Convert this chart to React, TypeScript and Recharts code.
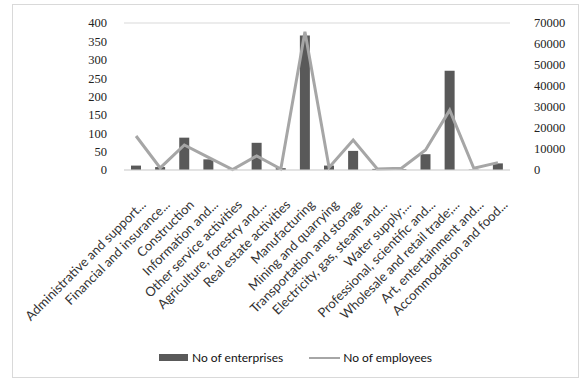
import { ComposedChart, Bar, Line, XAxis, YAxis, CartesianGrid, Legend } from 'recharts';

const categories = [
  'Administrative and support...',
  'Financial and insurance...',
  'Construction',
  'Information and...',
  'Other service activities',
  'Agriculture, forestry and...',
  'Real estate activities',
  'Manufacturing',
  'Mining and quarrying',
  'Transportation and storage',
  'Electricity, gas, steam and...',
  'Water supply;...',
  'Professional, scientific and...',
  'Wholesale and retail trade;...',
  'Art, entertainment and...',
  'Accommodation and food...',
];

const enterprises = [12, 8, 88, 29, 1, 74, 5, 366, 12, 52, 3, 2, 43, 270, 1, 18];
const employees = [16200, 1000, 11900, 6000, 200, 6700, 500, 65800, 1200, 14300, 500, 800, 9500, 28500, 800, 3500];

const leftTicks = [0, 50, 100, 150, 200, 250, 300, 350, 400];
const rightTicks = [0, 10000, 20000, 30000, 40000, 50000, 60000, 70000];

const data = categories.map((name, i) => ({
  name,
  enterprises: enterprises[i],
  employees: employees[i],
}));

const numFont = { fontFamily: 'Liberation Serif', fontSize: 12.5, fill: '#222' };

function LegendBox() {
  return (
    <div style={{ display: 'flex', justifyContent: 'center', gap: 26, fontFamily: 'Lato', fontSize: 12, color: '#111' }}>
      <span style={{ display: 'flex', alignItems: 'center' }}>
        <span style={{ display: 'inline-block', width: 29, height: 7, background: '#595959', marginRight: 4 }} />
        No of enterprises
      </span>
      <span style={{ display: 'flex', alignItems: 'center' }}>
        <span style={{ display: 'inline-block', width: 31, height: 2, background: '#a6a6a6', marginRight: 3 }} />
        No of employees
      </span>
    </div>
  );
}

export default function App() {
  return (
    <div style={{ position: 'absolute', left: 12, top: 4, width: 565, height: 372, border: '1px solid #d9d9d9', background: '#fff' }}>
      <ComposedChart width={565} height={372} data={data} margin={{ top: 18, right: 0, bottom: 12, left: 0 }}>
        <CartesianGrid vertical={false} stroke="#d9d9d9" />
        <XAxis
          dataKey="name"
          interval={0}
          angle={-45}
          textAnchor="end"
          height={180}
          tickLine={false}
          axisLine={{ stroke: '#d9d9d9' }}
          tick={{ fontFamily: 'Lato', fontSize: 13, fill: '#333', dx: 4, dy: 21 }}
        />
        <YAxis
          yAxisId="left"
          domain={[0, 400]}
          ticks={leftTicks}
          interval={0}
          width={111}
          axisLine={false}
          tickLine={false}
          tickMargin={11}
          tick={numFont}
        />
        <YAxis
          yAxisId="right"
          orientation="right"
          domain={[0, 70000]}
          ticks={rightTicks}
          interval={0}
          width={68}
          axisLine={false}
          tickLine={false}
          tickMargin={18}
          tick={numFont}
        />
        <Legend verticalAlign="bottom" content={() => <LegendBox />} />
        <Bar yAxisId="left" dataKey="enterprises" name="No of enterprises" fill="#595959" barSize={10} isAnimationActive={false} />
        <Line yAxisId="right" dataKey="employees" name="No of employees" stroke="#a6a6a6" strokeWidth={3} dot={false} type="linear" isAnimationActive={false} />
      </ComposedChart>
    </div>
  );
}
